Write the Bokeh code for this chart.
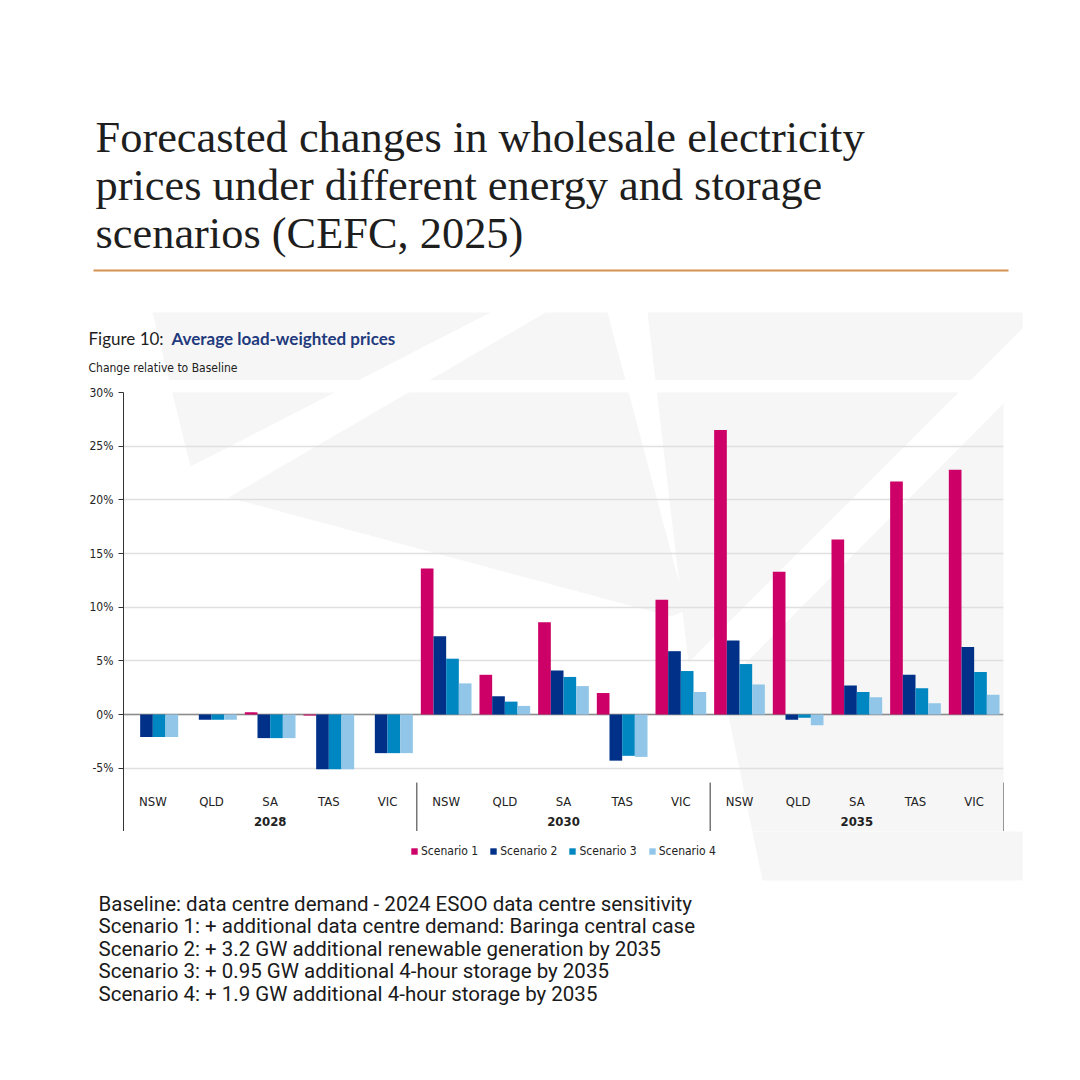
from bokeh.plotting import figure
from bokeh.layouts import column
from bokeh.models import (ColumnDataSource, FactorRange, Range1d, FixedTicker,
                          PrintfTickFormatter, Span, Label, Legend, LegendItem)
from bokeh.transform import dodge
from bokeh.core.properties import value
from bokeh.embed import file_html
from bokeh.resources import INLINE

# ---- data -------------------------------------------------------------
years = ["2028", "2030", "2035"]
states = ["NSW", "QLD", "SA", "TAS", "VIC"]
scenarios = ["Scenario 1", "Scenario 2", "Scenario 3", "Scenario 4"]
y_ticks = [-5, 0, 5, 10, 15, 20, 25, 30]

# change in average load-weighted price relative to baseline (%),
# ordered 2028 NSW..VIC, 2030 NSW..VIC, 2035 NSW..VIC
scenario_1 = [0.0, 0.0, 0.2, -0.1, 0.0,
              13.6, 3.7, 8.6, 2.0, 10.7,
              26.5, 13.3, 16.3, 21.7, 22.8]
scenario_2 = [-2.1, -0.5, -2.2, -5.1, -3.6,
              7.3, 1.7, 4.1, -4.3, 5.9,
              6.9, -0.5, 2.7, 3.7, 6.3]
scenario_3 = [-2.1, -0.5, -2.2, -5.1, -3.6,
              5.2, 1.2, 3.5, -3.85, 4.05,
              4.7, -0.3, 2.1, 2.45, 3.95]
scenario_4 = [-2.1, -0.5, -2.2, -5.1, -3.6,
              2.9, 0.8, 2.65, -3.95, 2.1,
              2.8, -1.0, 1.6, 1.05, 1.85]

title_lines = ["Forecasted changes in wholesale electricity",
               "prices under different energy and storage",
               "scenarios (CEFC, 2025)"]
footnotes = ["Baseline: data centre demand - 2024 ESOO data centre sensitivity",
             "Scenario 1: + additional data centre demand: Baringa central case",
             "Scenario 2: + 3.2 GW additional renewable generation by 2035",
             "Scenario 3: + 0.95 GW additional 4-hour storage by 2035",
             "Scenario 4: + 1.9 GW additional 4-hour storage by 2035"]

colors = ["#cc0066", "#003087", "#0086c0", "#92c6e8"]

# ---- page geometry (pixels from the top-left of the page) -------------
W = 1080
HEAD_END = 380          # header band: 0 .. 380
CHART_END = 831         # chart band: 380 .. 831
PAGE_END = 1080         # footer band: 831 .. 1080
F_LEFT, F_RIGHT, F_TOP = 123, 1003, 392
Y_MIN, Y_MAX = -10.9, 30
NARROW = "DejaVu Sans Condensed"
INK = "#222222"

# faint logo watermark behind the chart, in page pixels
MARK_XS = [[152, 490, 190],
           [228, 545, 607, 686, 670],
           [647, 1022, 1022, 688],
           [1022, 1022, 762, 722]]
MARK_YS = [[312, 312, 466],
           [497, 312, 312, 610, 616],
           [312, 312, 328, 662],
           [384, 880, 880, 686]]
MARK_COLOR = "#f6f6f6"


def band(top, bottom):
    """A blank figure whose data coordinates equal page pixels."""
    f = figure(width=W, height=bottom - top, output_backend="svg",
               toolbar_location=None, x_range=Range1d(0, W),
               y_range=Range1d(bottom, top), x_axis_location=None,
               y_axis_location=None, min_border=0, frame_align=False)
    f.outline_line_color = None
    f.grid.visible = False
    f.background_fill_color = "white"
    f.border_fill_color = "white"
    f.patches(xs=MARK_XS, ys=MARK_YS, fill_color=MARK_COLOR,
              line_color=None, level="image")
    return f


# ---- header -----------------------------------------------------------
head = band(0, HEAD_END)
for i, line in enumerate(title_lines):
    head.add_layout(Label(x=95, y=136 + 48 * i, text=line,
                          text_font="Liberation Serif",
                          text_font_size="44.4px",
                          text_color="#1e1e1e", text_baseline="alphabetic"))
head.segment(x0=93, x1=1008, y0=270, y1=270, line_color="#d4914f",
             line_width=2)
head.add_layout(Label(x=88, y=338, text="Figure 10:", text_font="Lato",
                      text_font_size="17px", text_color="#1e1e1e",
                      text_baseline="alphabetic"))
head.add_layout(Label(x=171, y=338, text="Average load-weighted prices",
                      text_font="Lato", text_font_size="17px",
                      text_font_style="bold", text_color="#1f3a7d",
                      text_baseline="alphabetic"))
head.add_layout(Label(x=88, y=367, text="Change relative to Baseline",
                      text_font=NARROW, text_font_size="12px",
                      text_color=INK, text_baseline="middle"))

# ---- chart ------------------------------------------------------------
factors = [(y, s) for y in years for s in states]
src = ColumnDataSource(dict(x=factors, s1=scenario_1, s2=scenario_2,
                            s3=scenario_3, s4=scenario_4))

p = figure(width=W, height=CHART_END - HEAD_END, output_backend="svg",
           toolbar_location=None, frame_align=False,
           x_range=FactorRange(*factors, range_padding=0, factor_padding=0,
                               group_padding=0),
           y_range=Range1d(Y_MIN, Y_MAX),
           x_axis_location=None,
           min_border_left=F_LEFT, min_border_right=W - F_RIGHT,
           min_border_top=F_TOP - HEAD_END, min_border_bottom=0)
p.outline_line_color = None
p.background_fill_color = "white"
p.border_fill_color = "white"
p.xgrid.visible = False

# watermark inside the chart frame: page pixels -> synthetic x / percent y
n_fac = len(factors)
to_x = lambda px: (px - F_LEFT) / (F_RIGHT - F_LEFT) * n_fac
to_y = lambda py: Y_MAX - (py - F_TOP) / (CHART_END - F_TOP) * (Y_MAX - Y_MIN)
p.patches(xs=[[to_x(v) for v in xs] for xs in MARK_XS],
          ys=[[to_y(v) for v in ys] for ys in MARK_YS],
          fill_color=MARK_COLOR, line_color=None, level="image")

yax = p.yaxis[0]
yax.ticker = FixedTicker(ticks=y_ticks)
yax.formatter = PrintfTickFormatter(format="%d%%")
yax.major_label_text_font = NARROW
yax.major_label_text_font_size = "12px"
yax.major_label_text_color = INK
yax.major_tick_in = 0
yax.major_tick_out = 5
yax.minor_tick_out = 0
yax.minor_tick_in = 0
yax.major_label_standoff = 5
yax.axis_line_color = "#333333"
yax.major_tick_line_color = "#333333"

p.ygrid.ticker = FixedTicker(ticks=y_ticks)
p.ygrid.grid_line_color = "#e0e0e0"
p.ygrid.grid_line_width = 1.5

p.add_layout(Span(location=0, dimension="width", line_color="#8c8c8c",
                  line_width=1.5, level="underlay"))

bw = 0.216
offsets = [-1.5 * bw, -0.5 * bw, 0.5 * bw, 1.5 * bw]
for col, off, c in zip(["s1", "s2", "s3", "s4"], offsets, colors):
    p.vbar(x=dodge("x", off, range=p.x_range), top=col, bottom=0,
           width=bw, source=src, fill_color=c, line_color=None)

# state and year labels under the bars
lab_src = ColumnDataSource(dict(x=factors, t=[f[1] for f in factors]))
p.text(x="x", y=-8.1, text="t", source=lab_src, text_align="center",
       text_baseline="middle", text_font=value(NARROW),
       text_font_size="13px", text_color=INK)
yr_src = ColumnDataSource(dict(x=[(y, "SA") for y in years], t=years))
p.text(x="x", y=-10.0, text="t", source=yr_src, text_align="center",
       text_baseline="middle", text_font=value(NARROW),
       text_font_size="13px", text_font_style="bold", text_color=INK)

# group separators
sep_src = ColumnDataSource(dict(
    x=[(years[1], states[0], -0.5), (years[2], states[0], -0.5),
       (years[2], states[-1], 0.5)]))
p.segment(x0="x", x1="x", y0=-6.34, y1=Y_MIN, source=sep_src,
          line_color="#333333", line_width=1)

# ---- footer: legend and scenario notes --------------------------------
foot = band(CHART_END, PAGE_END)
# zero-height swatch bars that only carry the legend colours
swatches = [foot.vbar(x=[0], top=[0], bottom=[0], width=0, fill_color=c,
                      line_color=None) for c in colors]
legend = Legend(items=[LegendItem(label=s, renderers=[r])
                       for s, r in zip(scenarios, swatches)],
                orientation="horizontal", location=(410, PAGE_END - 858),
                glyph_width=8, glyph_height=8, label_standoff=3, spacing=11,
                label_text_font=NARROW, label_text_font_size="12px",
                label_text_color=INK, border_line_color=None,
                background_fill_alpha=0, padding=0, margin=0)
foot.add_layout(legend)

for i, line in enumerate(footnotes):
    foot.add_layout(Label(x=98, y=903 + 22.5 * i, text=line,
                          text_font="Roboto", text_font_size="20.5px",
                          text_color="#1a1a1a", text_baseline="middle"))

page = column(head, p, foot, spacing=0)
open("out.html", "w").write(file_html(page, INLINE))
